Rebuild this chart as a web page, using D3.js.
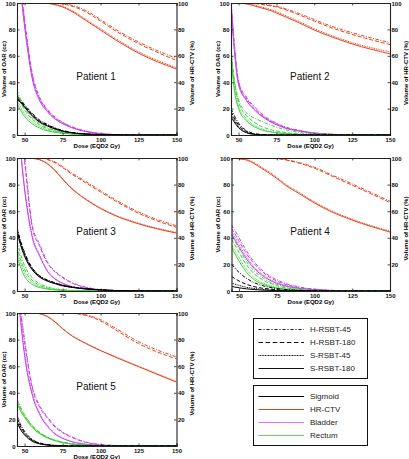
<!DOCTYPE html>
<html><head><meta charset="utf-8">
<script src="https://cdn.jsdelivr.net/npm/d3@7"></script>
<style>body{margin:0;background:#fff}svg{display:block;font-family:"Liberation Sans",Arial,sans-serif}</style>
</head><body><svg id="c" width="409" height="459"></svg>
<script>
// ---------- data ----------
const doses = [45, 47, 50, 55, 60, 65, 70, 75, 80, 90, 100, 110, 125, 150];
const techniques = ["H-RSBT-45", "H-RSBT-180", "S-RSBT-45", "S-RSBT-180"];
const structures = ["Sigmoid", "HR-CTV", "Bladder", "Rectum"];
const patientNames = ["Patient 1", "Patient 2", "Patient 3", "Patient 4", "Patient 5"];
const xTicks = [50, 75, 100, 125, 150];
const yTicksLeft = [0, 20, 40, 60, 80, 100];
const yTicksRight = [20, 40, 60, 80, 100];

// each: [H-RSBT-45, H-RSBT-180, S-RSBT-45, S-RSBT-180], values at `doses`
const p1Sigmoid = [
  [29, 27, 23, 16.5, 11.2, 8, 5.4, 3.5, 2.2, 0.9, 0.35, 0.1, 0, 0],
  [28, 26, 22, 15.5, 10.5, 7.5, 5, 3.2, 2, 0.8, 0.3, 0.1, 0, 0],
  [27.5, 25.5, 21.5, 15, 10, 7.1, 4.7, 3, 1.9, 0.75, 0.3, 0.1, 0, 0],
  [27, 25, 21, 14.5, 9.6, 6.8, 4.5, 2.8, 1.8, 0.7, 0.25, 0.1, 0, 0]];
const p1CTV = [
  [100, 100, 100, 100, 100, 100, 100, 99.6, 98.6, 94.5, 87.5, 80, 70.5, 58],
  [100, 100, 100, 100, 100, 100, 99.9, 99.3, 98, 93.5, 86.3, 78.8, 69.3, 56.5],
  [100, 100, 100, 100, 100, 99.8, 99, 97.5, 95, 88, 80.5, 73, 63, 51],
  [100, 100, 100, 100, 100, 99.7, 98.7, 97, 94.3, 87, 79.5, 72, 62, 50]];
const p1Bladder = [
  [135, 118, 88, 47, 28.5, 19.5, 13.5, 9.7, 6.8, 3.1, 1.1, 0.35, 0.05, 0],
  [133, 116, 86, 45.5, 27.5, 18.8, 13, 9.3, 6.5, 2.9, 1, 0.3, 0.05, 0],
  [131, 114, 84, 44, 26.5, 18.2, 12.5, 8.9, 6.2, 2.8, 0.95, 0.3, 0, 0],
  [129, 112, 82, 43, 25.8, 17.7, 12.1, 8.6, 6, 2.7, 0.9, 0.3, 0, 0]];
const p1Rectum = [
  [34, 28, 21, 13, 8.5, 5.5, 3.5, 2.2, 1.4, 0.5, 0.2, 0.05, 0, 0],
  [31, 26, 19, 12, 7.5, 4.8, 3, 1.9, 1.2, 0.4, 0.15, 0.05, 0, 0],
  [27, 22, 16, 10, 6.2, 3.9, 2.4, 1.5, 1, 0.3, 0.1, 0, 0, 0],
  [24, 19.5, 14, 8.5, 5.2, 3.2, 2, 1.2, 0.8, 0.3, 0.1, 0, 0, 0]];

const p2Sigmoid = [
  [20, 15, 9, 3.5, 1.2, 0.4, 0.1, 0, 0, 0, 0, 0, 0, 0],
  [18, 13, 7.5, 2.8, 0.9, 0.3, 0.1, 0, 0, 0, 0, 0, 0, 0],
  [16, 11.5, 6.5, 2.3, 0.7, 0.2, 0, 0, 0, 0, 0, 0, 0, 0],
  [14, 10, 5.5, 1.8, 0.5, 0.15, 0, 0, 0, 0, 0, 0, 0, 0]];
const p2CTV = [
  [100, 100, 100, 100, 99.8, 99.3, 98.5, 97.5, 96, 92, 87.5, 83, 77.5, 70],
  [100, 100, 100, 100, 99.7, 99, 98, 97, 95.3, 91, 86.3, 81.8, 76.2, 68.5],
  [100, 100, 100, 99.5, 98.5, 97, 95.5, 93.5, 91, 86, 80.5, 76, 70, 63],
  [100, 100, 100, 99.3, 98, 96.3, 94.7, 92.5, 90, 85, 79.5, 75, 69, 61.5]];
const p2Bladder = [
  [102, 72, 41, 29, 22, 16.5, 12, 9, 6.5, 3.5, 1.6, 0.7, 0.1, 0],
  [101, 70, 40, 28, 21, 15.5, 11.5, 8.5, 6, 3.3, 1.5, 0.6, 0.1, 0],
  [100, 68, 39, 27, 20, 15, 11, 8.1, 5.7, 3.1, 1.4, 0.55, 0.1, 0],
  [99, 67, 38, 26.5, 19.5, 14.5, 10.6, 7.8, 5.5, 3, 1.3, 0.5, 0.1, 0]];
const p2Rectum = [
  [67, 44, 27, 17, 13, 10.5, 8, 6, 4.3, 2, 0.8, 0.3, 0, 0],
  [64, 42, 25, 15, 10, 6.5, 4.5, 3, 2, 0.8, 0.3, 0.1, 0, 0],
  [62, 39, 22, 12.5, 7.5, 4.8, 3, 2, 1.3, 0.5, 0.2, 0, 0, 0],
  [60, 36, 20, 11, 6.5, 4, 2.5, 1.6, 1, 0.4, 0.1, 0, 0, 0]];

const p3Sigmoid = [
  [48, 39, 29, 17.5, 11.5, 8.3, 6.2, 4.5, 3.3, 1.9, 0.9, 0.4, 0.1, 0],
  [47, 38, 28, 17, 11, 8, 6, 4.3, 3.2, 1.8, 0.9, 0.4, 0.1, 0],
  [46, 37, 27, 16.5, 10.7, 7.7, 5.8, 4.1, 3, 1.7, 0.8, 0.35, 0.1, 0],
  [45, 36, 26, 16, 10.3, 7.4, 5.5, 3.9, 2.9, 1.6, 0.8, 0.3, 0.1, 0]];
const p3CTV = [
  [100, 100, 100, 100, 100, 99, 97, 93.5, 89.5, 82.5, 75.5, 68.5, 59.5, 49],
  [100, 100, 100, 100, 100, 98.8, 96.5, 92.8, 88.7, 81.5, 74.5, 67.5, 58.5, 47.8],
  [100, 100, 100, 99.8, 98.8, 96, 91, 84.5, 78.5, 69.5, 62.5, 57, 51, 44],
  [100, 100, 100, 99.7, 98.6, 95.6, 90.5, 84, 78, 69, 62, 56.5, 50.5, 43.5]];
const p3Bladder = [
  [150, 128, 100, 50, 35, 22, 15, 10.5, 7, 3, 1, 0.3, 0, 0],
  [147, 125, 97, 48, 33.5, 21, 14.3, 10, 6.6, 2.8, 0.9, 0.3, 0, 0],
  [130, 110, 78, 42, 27, 15.5, 9.5, 6, 3.8, 1.5, 0.5, 0.1, 0, 0],
  [127, 108, 76, 40.5, 26, 14.8, 9, 5.7, 3.6, 1.4, 0.45, 0.1, 0, 0]];
const p3Rectum = [
  [38, 29, 19, 10, 5.5, 3, 1.7, 1, 0.6, 0.2, 0.05, 0, 0, 0],
  [34, 25, 16, 8, 4.3, 2.3, 1.3, 0.7, 0.4, 0.1, 0, 0, 0, 0],
  [30, 22, 13.5, 6.5, 3.4, 1.8, 1, 0.5, 0.3, 0.1, 0, 0, 0, 0],
  [26, 19, 11, 5, 2.6, 1.4, 0.8, 0.4, 0.2, 0.05, 0, 0, 0, 0]];

const p4Sigmoid = [
  [20, 17.5, 14, 9.5, 6.3, 4.2, 2.8, 1.8, 1.2, 0.5, 0.2, 0, 0, 0],
  [11, 9.5, 7.5, 5, 3.3, 2.2, 1.5, 1, 0.6, 0.2, 0.1, 0, 0, 0],
  [6, 5.2, 4.2, 2.8, 1.9, 1.3, 0.8, 0.5, 0.3, 0.1, 0, 0, 0, 0],
  [3.5, 3, 2.4, 1.6, 1.1, 0.7, 0.5, 0.3, 0.2, 0.05, 0, 0, 0, 0]];
const p4CTV = [
  [100, 100, 100, 100, 100, 100, 100, 99.7, 99, 96.5, 93, 88, 80.5, 67.5],
  [100, 100, 100, 100, 100, 100, 99.9, 99.5, 98.7, 96, 92.3, 87.2, 79.5, 66.5],
  [100, 100, 99.5, 99, 96.5, 93, 89.5, 85.5, 81, 74, 67, 61, 54, 45],
  [100, 99.8, 99.3, 98.5, 95.8, 92.2, 88.6, 84.6, 80.1, 73.1, 66.2, 60.2, 53.3, 44.3]];
const p4Bladder = [
  [49.5, 46, 40, 30, 22, 16, 11.5, 8.5, 6, 3, 1.4, 0.6, 0.1, 0],
  [47, 43.5, 37.5, 28, 20.5, 15, 10.5, 7.5, 5.3, 2.6, 1.2, 0.5, 0.1, 0],
  [45, 41, 35, 25.5, 18, 13, 9, 6.3, 4.4, 2.1, 1, 0.4, 0.1, 0],
  [43, 39, 33, 24, 17, 12, 8.3, 5.8, 4, 1.9, 0.9, 0.35, 0.05, 0]];
const p4Rectum = [
  [42, 38, 32, 22, 15, 10.5, 7, 5, 3.3, 1.4, 0.5, 0.2, 0, 0],
  [39, 35, 29, 19.5, 13, 8.8, 6, 4, 2.6, 1.1, 0.4, 0.1, 0, 0],
  [35, 31, 25, 16, 10, 6.5, 4.3, 2.8, 1.8, 0.7, 0.2, 0.05, 0, 0],
  [33, 28.5, 22.5, 14, 8.5, 5.5, 3.5, 2.2, 1.4, 0.5, 0.2, 0, 0, 0]];

const p5Sigmoid = [
  [23, 17, 11, 5, 2.3, 1.1, 0.5, 0.2, 0.1, 0, 0, 0, 0, 0],
  [21, 15.5, 10, 4.5, 2, 1, 0.4, 0.2, 0.1, 0, 0, 0, 0, 0],
  [19, 14, 9, 4, 1.8, 0.8, 0.3, 0.1, 0, 0, 0, 0, 0, 0],
  [18, 13, 8.3, 3.6, 1.6, 0.7, 0.3, 0.1, 0, 0, 0, 0, 0, 0]];
const p5CTV = [
  [100, 100, 100, 100, 100, 100, 100, 100, 100, 98.7, 95, 88.5, 78.5, 67],
  [100, 100, 100, 100, 100, 100, 100, 100, 99.8, 98.3, 94, 87.2, 77, 65.5],
  [100, 100, 100, 100, 99.5, 97.5, 93.5, 88.5, 84, 77.5, 72, 67, 60, 48.5],
  [100, 100, 100, 100, 99.4, 97.3, 93.2, 88.2, 83.7, 77.2, 71.7, 66.7, 59.6, 48]];
const p5Bladder = [
  [135, 107, 80, 45, 30, 22, 15, 10.5, 7.5, 3, 1.1, 0.4, 0, 0],
  [133, 105, 78, 44, 29, 21, 14.3, 10, 7, 2.8, 1, 0.35, 0, 0],
  [125, 100, 70, 40, 24.5, 15.5, 9.5, 6, 3.8, 1.4, 0.5, 0.15, 0, 0],
  [123, 98, 68, 38.5, 23.5, 14.8, 9, 5.7, 3.6, 1.3, 0.45, 0.15, 0, 0]];
const p5Rectum = [
  [35, 30, 23.5, 15.5, 10.3, 6.7, 4.4, 2.9, 1.9, 0.7, 0.3, 0.1, 0, 0],
  [34, 29, 23, 15, 10, 6.5, 4.3, 2.8, 1.8, 0.7, 0.3, 0.1, 0, 0],
  [33, 28, 22, 14.3, 9.5, 6.2, 4.1, 2.6, 1.7, 0.6, 0.25, 0.1, 0, 0],
  [32, 27, 21.5, 14, 9.2, 6, 4, 2.5, 1.6, 0.6, 0.2, 0.1, 0, 0]];

const patientSeries = [
  {Sigmoid: p1Sigmoid, "HR-CTV": p1CTV, Bladder: p1Bladder, Rectum: p1Rectum},
  {Sigmoid: p2Sigmoid, "HR-CTV": p2CTV, Bladder: p2Bladder, Rectum: p2Rectum},
  {Sigmoid: p3Sigmoid, "HR-CTV": p3CTV, Bladder: p3Bladder, Rectum: p3Rectum},
  {Sigmoid: p4Sigmoid, "HR-CTV": p4CTV, Bladder: p4Bladder, Rectum: p4Rectum},
  {Sigmoid: p5Sigmoid, "HR-CTV": p5CTV, Bladder: p5Bladder, Rectum: p5Rectum}];

// ---------- styles ----------
const colors = {Sigmoid: "#000000", "HR-CTV": "#e2461f", Bladder: "#c444e6", Rectum: "#3fcf3c"};
const legendColors = {Sigmoid: "#000000", "HR-CTV": "#e2461f", Bladder: "#de74ef", Rectum: "#5fdc5a"};
const dashes = {"H-RSBT-45": "3.5,1.5,1,1.5", "H-RSBT-180": "4,2", "S-RSBT-45": "1,0.8", "S-RSBT-180": null};
const legendDashes = {"H-RSBT-45": "3,2,1,2", "H-RSBT-180": "4.5,2.6", "S-RSBT-45": "1,0.6", "S-RSBT-180": null};
const drawOrder = ["HR-CTV", "Bladder", "Rectum", "Sigmoid"];

const panels = [
  {x0: 17, x1: 176.5, y0: 3, y1: 135},
  {x0: 231, x1: 390, y0: 3, y1: 135},
  {x0: 17, x1: 176.5, y0: 158, y1: 291},
  {x0: 231.5, x1: 390, y0: 158, y1: 291},
  {x0: 17, x1: 176.5, y0: 313, y1: 446}];

const svg = d3.select("#c");
const defs = svg.append("defs");

panels.forEach((p, i) => {
  const x = d3.scaleLinear().domain([45, 150]).range([p.x0, p.x1]);
  const y = d3.scaleLinear().domain([0, 100]).range([p.y1, p.y0]);
  const g = svg.append("g");
  const cid = "clip" + i;
  defs.append("clipPath").attr("id", cid).append("rect")
    .attr("x", p.x0).attr("y", p.y0).attr("width", p.x1 - p.x0).attr("height", p.y1 - p.y0);

  const line = d3.line().x((d, k) => x(doses[k])).y(d => y(d)).curve(d3.curveMonotoneX);
  const lines = g.append("g").attr("clip-path", `url(#${cid})`);
  drawOrder.forEach(s => {
    patientSeries[i][s].forEach((vals, t) => {
      const tech = techniques[t];
      lines.append("path").attr("d", line(vals))
        .attr("fill", "none").attr("stroke", colors[s]).attr("stroke-width", 1)
        .attr("stroke-dasharray", dashes[tech]);
    });
  });

  const tickFont = "bold 6px 'Liberation Sans', Arial, sans-serif";
  // axes (inward ticks)
  const ax = d3.axisBottom(x).tickValues(xTicks).tickSize(-2.5).tickPadding(3).tickFormat(d3.format("d"));
  const gx = g.append("g").attr("transform", `translate(0,${p.y1})`).call(ax);
  const axTop = d3.axisTop(x).tickValues(xTicks).tickSize(-2.5).tickFormat("");
  const gxt = g.append("g").attr("transform", `translate(0,${p.y0})`).call(axTop);
  const ayl = d3.axisLeft(y).tickValues(yTicksLeft).tickSize(-2.5).tickPadding(1.5).tickFormat(d3.format("d"));
  const gyl = g.append("g").attr("transform", `translate(${p.x0},0)`).call(ayl);
  const ayr = d3.axisRight(y).tickValues(yTicksRight).tickSize(-2.5).tickPadding(1.5).tickFormat(d3.format("d"));
  const gyr = g.append("g").attr("transform", `translate(${p.x1},0)`).call(ayr);
  [gx, gxt, gyl, gyr].forEach(a => {
    a.select(".domain").attr("stroke", "#222").attr("stroke-width", 1.1);
    a.selectAll(".tick line").attr("stroke", "#222").attr("stroke-width", 0.8);
    a.selectAll("text").style("font", tickFont).attr("fill", "#111");
  });
  gyl.selectAll("text").attr("dy", "0.35em");
  gyr.selectAll("text").attr("dy", "0.35em");

  // axis titles
  g.append("text").attr("x", (p.x0 + p.x1) / 2).attr("y", p.y1 + 13)
    .attr("text-anchor", "middle").style("font", tickFont).text("Dose (EQD2 Gy)");
  g.append("text").attr("transform", `translate(${p.x0 - 13.5},${(p.y0 + p.y1) / 2}) rotate(-90)`)
    .attr("text-anchor", "middle").attr("dy", "0.35em").style("font", tickFont).text("Volume of OAR (cc)");
  g.append("text").attr("transform", `translate(${p.x1 + 15.5},${(p.y0 + p.y1) / 2 + 4}) rotate(-90)`)
    .attr("text-anchor", "middle").attr("dy", "0.35em").style("font", tickFont).text("Volume of HR-CTV (%)");
  // panel title
  g.append("text").attr("x", x(84)).attr("y", y(42))
    .attr("font-size", 10).attr("fill", "#111").text(patientNames[i]);
});

// ---------- legends ----------
function legend(y0, items, strokeFn, dashFn) {
  const lg = svg.append("g");
  lg.append("rect").attr("x", 253.5).attr("y", y0).attr("width", 114).attr("height", 60)
    .attr("fill", "#fff").attr("stroke", "#111").attr("stroke-width", 1);
  items.forEach((it, k) => {
    const yy = y0 + 11 + k * 13;
    lg.append("line").attr("x1", 258.5).attr("x2", 304).attr("y1", yy).attr("y2", yy)
      .attr("stroke", strokeFn(it)).attr("stroke-width", 1.2).attr("stroke-dasharray", dashFn(it));
    lg.append("text").attr("x", 310).attr("y", yy).attr("dy", "0.35em")
      .attr("font-size", 8).attr("fill", "#222").text(it);
  });
}
legend(318.5, techniques, () => "#111", t => legendDashes[t]);
legend(385.5, structures, s => legendColors[s], () => null);
</script></body></html>
